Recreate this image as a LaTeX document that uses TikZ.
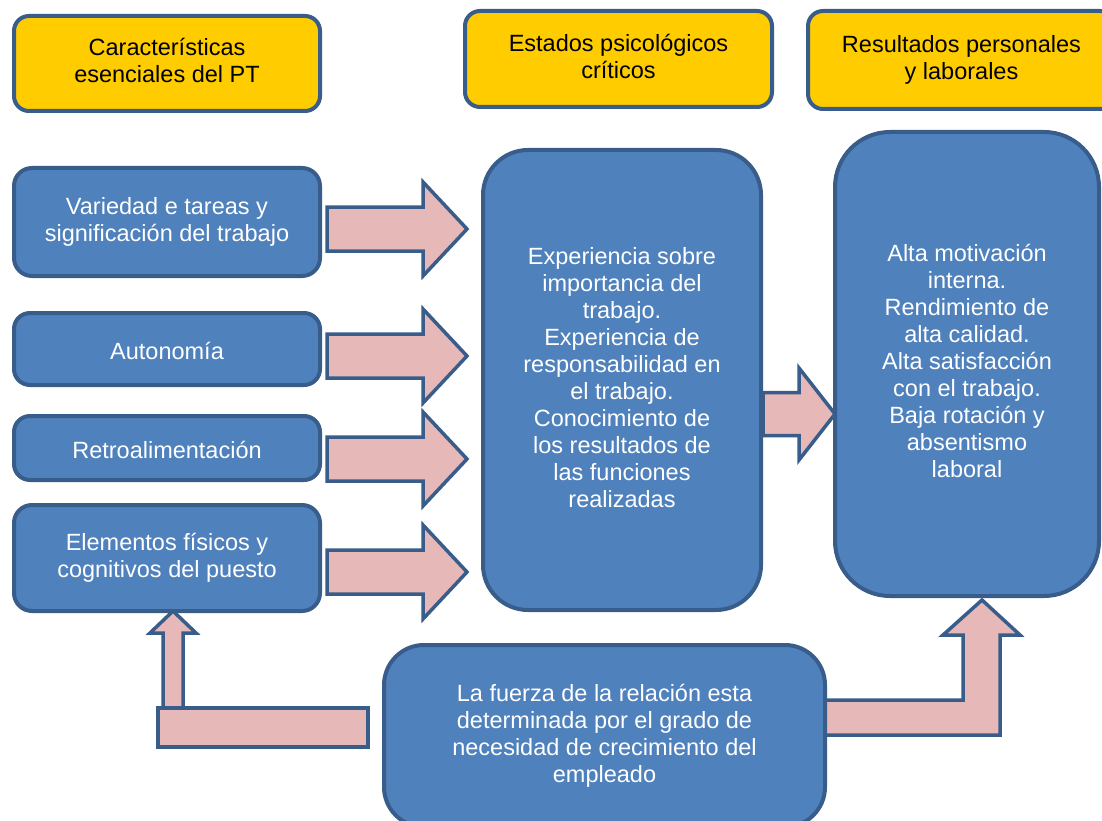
\documentclass[tikz,border=0pt]{standalone}
\usepackage{fontspec}
\setmainfont{Liberation Sans}
\definecolor{hdryellow}{HTML}{FFCC00}
\definecolor{boxblue}{HTML}{4F81BD}
\definecolor{edgeblue}{HTML}{385D8A}
\definecolor{arrowpink}{HTML}{E6B9B8}
% struts for the first and last line: every text block is centred on its lines, not on its ink
\newcommand\topstrut{\rule{0pt}{25.5pt}}
\newcommand\botstrut{\rule[-5.5pt]{0pt}{5.5pt}}

\begin{document}
\begin{tikzpicture}[x=1pt,y=-1pt,
  txt/.style={font=\fontsize{23.5}{27}\selectfont, align=center, inner sep=0pt,
    execute at begin node=\topstrut, execute at end node=\botstrut},
  hdr/.style={txt, draw=edgeblue, line width=4pt, fill=hdryellow, text=black, rounded corners=15pt},
  card/.style={txt, draw=edgeblue, line width=4pt, fill=boxblue, text=white},
  blockarrow/.style={draw=edgeblue, line width=3.5pt, fill=arrowpink, line join=miter}]
\useasboundingbox (0,0) rectangle (1102,821);
\clip (0,0) rectangle (1102,821);

% column headers
\node[hdr, minimum width=306, minimum height=95] (h1) at (167,63.5)
  {Características\\esenciales del PT};
\node[hdr, minimum width=307, minimum height=96] (h2) at (618.5,59)
  {Estados psicológicos\\críticos};
\node[hdr, minimum width=307, minimum height=98] (h3) at (961.5,60)
  {Resultados personales\\y laborales};

% job characteristics
\node[card, rounded corners=18pt, minimum width=306, minimum height=108] (v1) at (167,222)
  {Variedad e tareas y\\significación del trabajo};
\node[card, rounded corners=16pt, minimum width=306, minimum height=72] (v2) at (167,349)
  {Autonomía};
\node[card, rounded corners=16pt, minimum width=306, minimum height=64] (v3) at (167,448)
  {Retroalimentación};
\node[card, rounded corners=18pt, minimum width=306, minimum height=106] (v4) at (167,558)
  {Elementos físicos y\\cognitivos del puesto};

% psychological states and outcomes
\node[card, rounded corners=45pt, minimum width=278, minimum height=460] (c) at (622,380)
  {Experiencia sobre\\importancia del\\trabajo.\\Experiencia de\\responsabilidad en\\el trabajo.\\Conocimiento de\\los resultados de\\las funciones\\realizadas};
\node[card, rounded corners=55pt, minimum width=264, minimum height=464] (r) at (967,364)
  {Alta motivación\\interna.\\Rendimiento de\\alta calidad.\\Alta satisfacción\\con el trabajo.\\Baja rotación y\\absentismo\\laboral};

% bent arrow from the moderator box up to the outcomes
\coordinate (br) at (982,600);
\draw[blockarrow] (820,700) -- (963,700) -- (963,635) -- (943,635) -- (br)
  -- (1020,635) -- (1000,635) -- (1000,735) -- (820,735) -- cycle;

% moderator box
\node[card, rounded corners=40pt, minimum width=441, minimum height=182] (b) at (604.5,736)
  {La fuerza de la relación esta\\determinada por el grado de\\necesidad de crecimiento del\\empleado};

% arrows from the characteristics to the psychological states
\foreach \n/\yc in {1/229, 2/356, 3/459, 4/572}{
  \coordinate (a\n) at (327,\yc);
  \draw[blockarrow] (a\n) ++(0,-22) -- ++(96,0) -- ++(0,-25) -- (467,\yc)
    -- (423,\yc+47) -- ++(0,-25) -- (327,\yc+22) -- cycle;
}

% arrow from the psychological states to the outcomes
\coordinate (m) at (763,414);
\draw[blockarrow] (m) ++(0,-21.5) -- (799,392.5) -- (799,368) -- (835,414)
  -- (799,460) -- (799,435.5) -- (763,435.5) -- cycle;

% up arrow and bar feeding back into the job elements
\coordinate (ut) at (173,611);
\draw[blockarrow] (163,712) -- (163,633) -- (150,633) -- (ut) -- (196,633)
  -- (183,633) -- (183,712) -- cycle;
\draw[blockarrow] (158,708) rectangle (368,747);
\end{tikzpicture}
\end{document}
